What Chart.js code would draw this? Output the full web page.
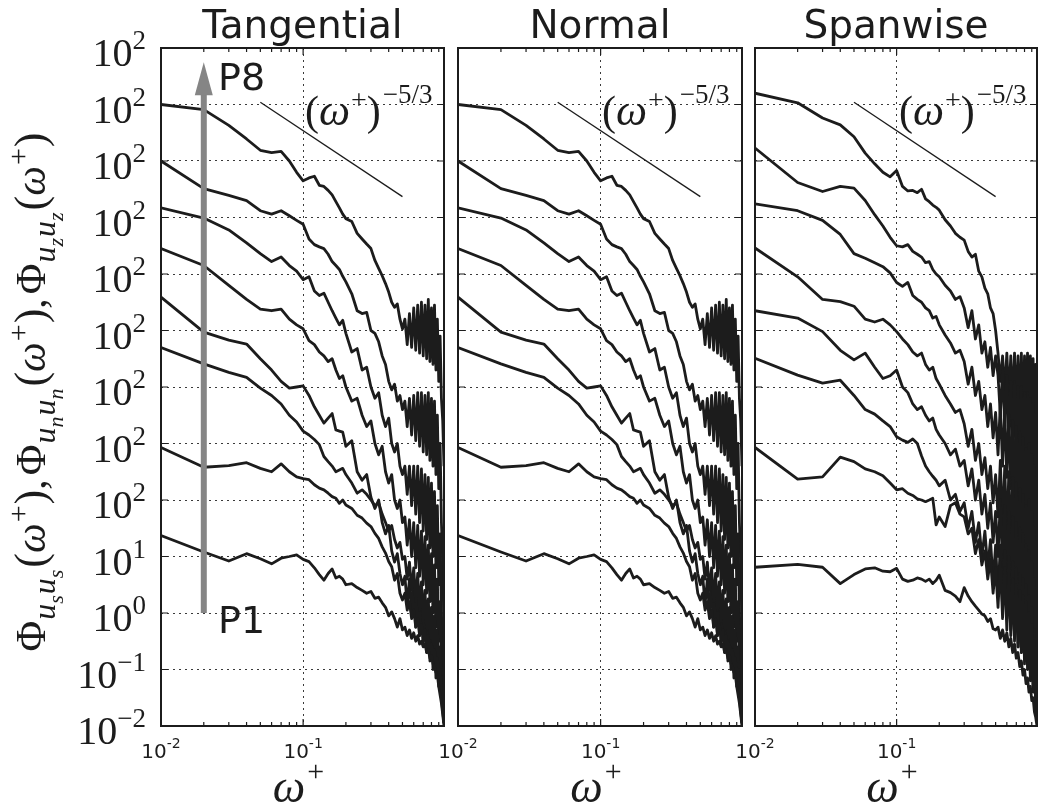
<!DOCTYPE html>
<html>
<head>
<meta charset="utf-8">
<script src="https://cdn.jsdelivr.net/npm/chart.js@4.4.1/dist/chart.umd.min.js"></script>
<style>
  html, body { margin: 0; padding: 0; background: #fff; }
  #wrap { position: relative; width: 1040px; height: 812px; overflow: hidden; }
  #wrap canvas { position: absolute; top: 0; left: 0; }
</style>
</head>
<body>
<div id="wrap">
  <canvas id="c-tan" width="1040" height="812"></canvas>
  <canvas id="c-nor" width="1040" height="812"></canvas>
  <canvas id="c-spa" width="1040" height="812"></canvas>
</div>
<script>
"use strict";

// Frequencies omega+ shared by every curve
const omega = [0.01, 0.02, 0.03, 0.04, 0.05, 0.06, 0.07, 0.08, 0.09, 0.10,
  0.11, 0.12, 0.13, 0.14, 0.15, 0.16, 0.17, 0.18, 0.19, 0.20,
  0.22, 0.24, 0.26, 0.28, 0.30, 0.32, 0.34, 0.36, 0.38, 0.40,
  0.42, 0.44, 0.46, 0.48, 0.50,
  0.52, 0.54, 0.56, 0.58, 0.60, 0.62, 0.64, 0.66, 0.68, 0.70, 0.72,
  0.74, 0.76, 0.78, 0.80, 0.82, 0.84, 0.86, 0.88, 0.90, 0.92, 0.94, 0.96, 0.98];

// Spectra, in decades (log10 of Phi, curves shifted as printed), P1 .. P8
// Tangential (the Normal panel shows the same curves)
const tanP8 = [9.0, 8.91, 8.63, 8.39, 8.19, 8.15, 8.17, 8.0, 7.8, 7.65, 7.7, 7.73, 7.57, 7.55, 7.48, 7.4, 7.28, 7.17, 7.06, 6.98,
  6.93, 6.72, 6.62, 6.53, 6.45, 6.24, 6.1, 5.97, 5.83, 5.68, 5.5, 5.41, 5.47, 5.2, 5.03,
  5.2, 4.75, 5.3, 4.7, 5.4, 4.65, 5.45, 4.6, 5.5, 4.55, 5.45, 4.5, 5.55, 4.45, 5.4, 4.4, 5.45, 4.3, 5.2, 4.1, 4.9, 3.8, 3.4, 2.6];
const tanP7 = [8.0, 7.51, 7.39, 7.3, 7.12, 7.06, 7.12, 7.03, 6.95, 6.88, 6.62, 6.52, 6.48, 6.45, 6.35, 6.22, 6.15, 6.08, 5.96, 5.86,
  5.65, 5.35, 5.3, 5.32, 5.0, 4.95, 4.8, 4.55, 4.4, 4.1, 3.95, 4.05, 3.75, 3.85, 3.6,
  3.75, 3.3, 3.8, 3.15, 3.85, 3.05, 3.9, 2.95, 3.9, 2.85, 3.85, 2.8, 3.9, 2.7, 3.8, 2.6, 3.75, 2.45, 3.5, 2.2, 3.0, 1.6, 0.9, -0.3];
const tanP6 = [7.17, 6.99, 6.78, 6.55, 6.36, 6.22, 6.3, 6.15, 6.05, 5.9, 5.95, 5.7, 5.62, 5.66, 5.5, 5.35, 5.22, 5.1, 5.18, 4.95,
  4.62, 4.68, 4.3, 4.35, 4.0, 3.8, 3.9, 3.5, 3.3, 3.45, 3.0, 2.85, 3.0, 2.6, 2.45,
  2.6, 2.1, 2.6, 1.9, 2.6, 1.75, 2.6, 1.6, 2.55, 1.45, 2.45, 1.3, 2.4, 1.15, 2.3, 1.0, 2.15, 0.8, 1.9, 0.5, 1.4, 0.0, -0.7, -1.5];
const tanP5 = [6.45, 6.15, 5.8, 5.55, 5.38, 5.35, 5.38, 5.2, 5.1, 5.03, 4.82, 4.75, 4.62, 4.55, 4.45, 4.5, 4.3, 4.15, 4.2, 4.0,
  3.75, 3.8, 3.5, 3.3, 3.4, 3.0, 2.8, 2.95, 2.5, 2.3, 2.45, 2.0, 1.85, 2.0, 1.6,
  1.7, 1.2, 1.65, 1.0, 1.6, 0.8, 1.55, 0.65, 1.45, 0.5, 1.35, 0.35, 1.2, 0.2, 1.05, 0.0, 0.85, -0.25, 0.6, -0.5, 0.2, -0.9, -1.3, -1.9];
const tanP4 = [5.59, 4.97, 4.83, 4.76, 4.5, 4.3, 4.1, 3.98, 4.0, 4.02, 3.85, 3.65, 3.5, 3.36, 3.45, 3.53, 3.24, 3.22, 3.2, 2.95,
  3.05, 2.5, 2.35, 2.45, 2.05, 1.85, 2.0, 1.6, 1.4, 1.55, 1.1, 0.9, 1.05, 0.7, 0.5,
  0.65, 0.15, 0.6, -0.05, 0.55, -0.25, 0.45, -0.4, 0.35, -0.55, 0.2, -0.7, 0.05, -0.85, -0.1, -1.0, -0.3, -1.15, -0.5, -1.3, -0.8, -1.5, -1.75, -1.95];
const tanP3 = [4.7, 4.41, 4.26, 4.17, 3.98, 3.85, 3.7, 3.5, 3.38, 3.22, 3.15, 3.07, 2.98, 2.77, 2.68, 2.6, 2.5, 2.53, 2.56, 2.45,
  2.3, 2.12, 2.18, 2.1, 2.0, 1.9, 1.95, 1.75, 1.6, 1.45, 1.55, 1.3, 1.15, 1.25, 0.95,
  1.0, 0.6, 0.9, 0.4, 0.8, 0.2, 0.7, 0.05, 0.55, -0.15, 0.4, -0.3, 0.25, -0.45, 0.1, -0.6, -0.05, -0.8, -0.3, -0.95, -0.6, -1.25, -1.55, -1.9];
const tanP2 = [2.93, 2.58, 2.61, 2.66, 2.56, 2.5, 2.64, 2.5, 2.41, 2.38, 2.36, 2.27, 2.21, 2.18, 2.12, 2.06, 2.03, 1.94, 2.0, 1.91,
  1.85, 1.73, 1.68, 1.59, 1.53, 1.41, 1.32, 1.17, 1.06, 0.91, 0.82, 0.58, 0.7, 0.35, 0.23,
  0.35, 0.05, 0.2, -0.1, 0.05, -0.25, -0.1, -0.4, -0.2, -0.5, -0.3, -0.6, -0.4, -0.75, -0.55, -0.85, -0.65, -1.0, -0.8, -1.15, -1.0, -1.35, -1.6, -1.95];
const tanP1 = [1.37, 1.08, 0.92, 1.05, 0.96, 0.87, 0.97, 1.0, 1.03, 0.95, 0.91, 0.8, 0.68, 0.58, 0.7, 0.78, 0.62, 0.65, 0.6, 0.5,
  0.52, 0.45, 0.4, 0.35, 0.38, 0.26, 0.28, 0.18, 0.1, -0.05, 0.02, -0.1, -0.25, -0.1, -0.3,
  -0.25, -0.4, -0.3, -0.45, -0.35, -0.5, -0.4, -0.55, -0.5, -0.6, -0.55, -0.7, -0.65, -0.8, -0.75, -0.9, -0.95, -1.05, -1.1, -1.3, -1.45, -1.6, -1.8, -2.0];

// Spanwise
const spanP8 = [9.2, 9.03, 8.76, 8.64, 8.43, 8.14, 7.95, 7.8, 7.72, 7.83, 7.55, 7.47, 7.48, 7.44, 7.5, 7.33, 7.28, 7.22, 7.18, 7.13,
  6.96, 6.85, 6.72, 6.65, 6.6, 6.4, 6.3, 6.35, 6.05, 5.95, 5.75, 5.65, 5.4, 5.3, 5.0,
  4.6, 4.1, 4.55, 3.9, 4.6, 3.8, 4.55, 3.7, 4.6, 3.6, 4.55, 3.5, 4.6, 3.4, 4.55, 3.3, 4.6, 3.2, 4.55, 3.1, 4.5, 3.0, 4.4, 2.9];
const spanP7 = [8.23, 7.62, 7.46, 7.55, 7.52, 7.3, 7.05, 6.85, 6.65, 6.5, 6.48, 6.52, 6.4, 6.35, 6.3, 6.2, 6.22, 6.08, 6.0, 5.95,
  5.8, 5.7, 5.55, 5.6, 5.4, 5.05, 5.35, 4.85, 5.1, 4.6, 4.8, 4.35, 4.7, 4.2, 4.55,
  4.2, 3.5, 4.3, 3.3, 4.2, 3.1, 4.1, 2.9, 4.1, 2.8, 4.0, 2.6, 4.0, 2.5, 3.9, 2.4, 3.9, 2.2, 3.8, 2.1, 3.7, 2.0, 3.5, 1.8];
const spanP6 = [7.24, 7.12, 6.95, 6.7, 6.36, 6.28, 6.2, 6.13, 6.02, 5.85, 5.78, 5.85, 5.62, 5.55, 5.5, 5.4, 5.35, 5.22, 5.25, 5.1,
  4.92, 4.78, 4.6, 4.65, 4.45, 4.05, 4.35, 3.85, 4.1, 3.6, 3.85, 3.3, 3.7, 3.1, 3.55,
  2.8, 3.7, 2.6, 3.6, 2.4, 3.5, 2.2, 3.4, 2.0, 3.3, 1.8, 3.2, 1.6, 3.1, 1.5, 2.9, 1.3, 3.0, 1.1, 2.8, 0.9, 2.6, 0.6, 2.3];
const spanP5 = [6.46, 5.95, 5.55, 5.51, 5.43, 5.2, 5.15, 5.2, 5.1, 4.98, 4.85, 4.75, 4.62, 4.55, 4.6, 4.4, 4.3, 4.35, 4.15, 4.05,
  3.85, 3.7, 3.55, 3.6, 3.35, 2.95, 3.25, 2.7, 3.0, 2.45, 2.75, 2.2, 2.6, 1.95, 2.45,
  1.7, 2.7, 1.5, 2.6, 1.3, 2.5, 1.1, 2.4, 0.9, 2.3, 0.7, 2.2, 0.5, 2.1, 0.3, 1.9, 0.1, 2.0, -0.1, 1.8, -0.4, 1.5, -0.8, 1.1];
const spanP4 = [5.35, 5.22, 4.98, 4.65, 4.48, 4.6, 4.35, 4.15, 4.2, 4.3, 4.0, 3.9, 3.7, 3.6, 3.65, 3.5, 3.4, 3.45, 3.25, 3.15,
  3.0, 2.8, 2.9, 2.6, 2.7, 2.25, 2.55, 2.0, 2.35, 1.75, 2.1, 1.5, 1.95, 1.25, 1.8,
  1.0, 2.0, 0.8, 1.9, 0.6, 1.8, 0.4, 1.7, 0.2, 1.6, 0.0, 1.5, -0.2, 1.4, -0.4, 1.2, -0.6, 1.1, -0.8, 0.9, -1.1, 0.6, -1.4, 0.2];
const spanP3 = [4.51, 4.21, 4.07, 4.12, 3.85, 3.6, 3.52, 3.4, 3.3, 3.12, 3.06, 3.02, 3.08, 3.0, 2.78, 2.6, 2.5, 2.42, 2.35, 2.25,
  2.35, 2.0, 2.1, 1.8, 1.95, 1.5, 1.8, 1.25, 1.6, 1.0, 1.45, 0.8, 1.3, 0.55, 1.2,
  0.3, 1.2, 0.1, 1.1, -0.1, 1.0, -0.3, 0.9, -0.4, 0.8, -0.6, 0.7, -0.7, 0.6, -0.9, 0.5, -1.0, 0.3, -1.2, 0.1, -1.4, -0.3, -1.7, -1.9];
const spanP2 = [2.93, 2.37, 2.41, 2.76, 2.68, 2.55, 2.5, 2.43, 2.3, 2.18, 2.2, 2.12, 2.08, 2.02, 2.0, 1.97, 2.0, 2.03, 1.56, 1.7,
  1.53, 1.9, 1.95, 1.75, 1.7, 1.4, 1.5, 1.05, 1.3, 0.85, 1.1, 0.6, 0.95, 0.35, 0.8,
  0.1, 0.9, -0.1, 0.8, -0.3, 0.7, -0.4, 0.6, -0.5, 0.5, -0.6, 0.4, -0.7, 0.3, -0.8, 0.2, -0.9, 0.0, -1.1, -0.2, -1.3, -0.5, -1.6, -1.9];
const spanP1 = [0.81, 0.86, 0.81, 0.52, 0.68, 0.78, 0.8, 0.74, 0.73, 0.79, 0.6, 0.56, 0.58, 0.62, 0.6, 0.56, 0.6, 0.52, 0.58, 0.67,
  0.4, 0.36, 0.3, 0.2, 0.45, 0.3, 0.2, 0.12, 0.05, -0.02, -0.05, -0.15, -0.1, -0.28, -0.3,
  -0.25, -0.45, -0.3, -0.5, -0.35, -0.6, -0.45, -0.7, -0.55, -0.8, -0.7, -0.95, -0.85, -1.1, -1.0, -1.25, -1.15, -1.4, -1.3, -1.55, -1.5, -1.75, -1.85, -2.0];

const tangentialCurves = [tanP1, tanP2, tanP3, tanP4, tanP5, tanP6, tanP7, tanP8];
const normalCurves = tangentialCurves;
const spanwiseCurves = [spanP1, spanP2, spanP3, spanP4, spanP5, spanP6, spanP7, spanP8];

// The -5/3 reference slope (omega, decades)
const slopeOmega = [0.05, 0.5];
const slopeLevel = [9.04, 7.37];

// Grey P1 -> P8 arrow (omega, decades from / to)
const arrowOmega = 0.02;
const arrowFrom = 0;
const arrowTo = 9.75;

// Ticks, and the labels exactly as printed
const yTickValues = [-2, -1, 0, 1, 2, 3, 4, 5, 6, 7, 8, 9, 10];
const yTickExps = ["\u22122", "\u22121", "0", "1", "2", "2", "2", "2", "2", "2", "2", "2", "2"];
const xTickValues = [0.01, 0.1];
const xTickExps = ["-2", "-1"];
const xMinorTicks = [0.02, 0.03, 0.04, 0.05, 0.06, 0.07, 0.08, 0.09, 0.2, 0.3, 0.4, 0.5, 0.6, 0.7, 0.8, 0.9];

const SERIF = "'Liberation Serif', 'DejaVu Serif', serif";
const SANS = "'DejaVu Sans', sans-serif";
const INK = "#1c1c1c";

// draw a run of [text, size, italic, dy, gapAfter] pieces, returns its width
function drawRun(ctx, segs, x, y, measureOnly) {
  let cx = x;
  for (const [t, size, it, dy, gap] of segs) {
    ctx.font = (it ? "italic " : "") + size + "px " + SERIF;
    if (!measureOnly) ctx.fillText(t, cx, y + dy);
    cx += ctx.measureText(t).width + (gap || 0);
  }
  return cx - x;
}

const phiTerm = (s) => [["\u03A6", 42, false, 0, 1], ["u", 32, true, 10, 0], [s, 22, true, 18, 1],
  ["u", 32, true, 10, 0], [s, 22, true, 18, 2], ["(", 44, false, 0, 0], ["\u03C9", 42, true, 0, 1],
  ["+", 30, false, -17, 1], [")", 44, false, 0, 0]];
const yTitle = [...phiTerm("s"), [",", 42, false, 0, 4], ...phiTerm("n"), [",", 42, false, 0, 4], ...phiTerm("z")];

const panelDecor = {
  id: "panelDecor",
  afterDraw(chart, args, o) {
    const { ctx, chartArea: a } = chart;
    const xs = chart.scales.x, ys = chart.scales.y;
    ctx.save();
    ctx.fillStyle = INK;
    ctx.strokeStyle = INK;
    ctx.textAlign = "left";
    ctx.textBaseline = "alphabetic";

    // grey arrow from P1 to P8
    if (o.arrow) {
      const ax = xs.getPixelForValue(arrowOmega);
      const y0 = ys.getPixelForValue(arrowFrom);
      const y1 = ys.getPixelForValue(arrowTo);
      ctx.fillStyle = "#858585";
      ctx.fillRect(ax - 3, y1 + 28, 6, y0 - y1 - 28);
      ctx.beginPath();
      ctx.moveTo(ax, y1);
      ctx.lineTo(ax - 9, y1 + 33);
      ctx.lineTo(ax + 9, y1 + 33);
      ctx.closePath();
      ctx.fill();
      ctx.fillStyle = INK;
      ctx.font = "38px " + SANS;
      ctx.fillText("P8", a.left + 57, 90);
      ctx.fillText("P1", a.left + 57, 633);
    }

    // frame and inward ticks
    ctx.lineWidth = 2;
    ctx.strokeRect(a.left, a.top, a.right - a.left, a.bottom - a.top);
    ctx.lineWidth = 1.2;
    ctx.beginPath();
    for (const v of yTickValues) {
      const py = ys.getPixelForValue(v);
      ctx.moveTo(a.left, py); ctx.lineTo(a.left + 7, py);
      ctx.moveTo(a.right, py); ctx.lineTo(a.right - 7, py);
    }
    for (const v of xTickValues) {
      const px = xs.getPixelForValue(v);
      ctx.moveTo(px, a.bottom); ctx.lineTo(px, a.bottom - 7);
      ctx.moveTo(px, a.top); ctx.lineTo(px, a.top + 7);
    }
    for (const v of xMinorTicks) {
      const px = xs.getPixelForValue(v);
      ctx.moveTo(px, a.bottom); ctx.lineTo(px, a.bottom - 4);
      ctx.moveTo(px, a.top); ctx.lineTo(px, a.top + 4);
    }
    ctx.stroke();

    // panel title
    ctx.font = "39px " + SANS;
    ctx.textAlign = "center";
    ctx.fillText(o.title, (a.left + a.right) / 2, 38);
    ctx.textAlign = "left";

    // x tick labels
    xTickValues.forEach((v, i) => {
      const px = xs.getPixelForValue(v);
      ctx.font = "20px " + SANS;
      const w1 = ctx.measureText("10").width;
      ctx.font = "14px " + SANS;
      const w2 = ctx.measureText(xTickExps[i]).width;
      const sx = px - (w1 + w2) / 2;
      ctx.font = "20px " + SANS;
      ctx.fillText("10", sx, 758);
      ctx.font = "14px " + SANS;
      ctx.fillText(xTickExps[i], sx + w1, 748);
    });

    // x axis title
    const xt = [["\u03C9", 46, true, 0, 2], ["+", 30, false, -21]];
    const xw = drawRun(ctx, xt, 0, 0, true);
    drawRun(ctx, xt, (a.left + a.right) / 2 - xw / 2 - 4, 802);

    // slope label
    drawRun(ctx, [["(", 42, false, 0], ["\u03C9", 44, true, 0, 1], ["+", 28, false, -16],
      [")", 42, false, 0, 2], ["\u2212" + "5/3", 27, false, -22]], a.left + 144, 125);

    // y axis ticks and title
    if (o.yAxis) {
      yTickValues.forEach((v, i) => {
        const py = ys.getPixelForValue(v);
        ctx.textAlign = "right";
        ctx.font = "27px " + SERIF;
        const we = ctx.measureText(yTickExps[i]).width;
        ctx.fillText(yTickExps[i], 146, py + 1);
        ctx.font = "40px " + SERIF;
        ctx.fillText("10", 146 - we, py + 18);
      });
      ctx.textAlign = "left";
      const tw = drawRun(ctx, yTitle, 0, 0, true);
      ctx.translate(45, 392 + tw / 2);
      ctx.rotate(-Math.PI / 2);
      drawRun(ctx, yTitle, 0, 0);
    }
    ctx.restore();
  }
};

function makePanel(id, title, curves, padLeft, yWidth, padRight, yAxis, arrow) {
  const datasets = curves.map((vals) => ({
    data: omega.map((w, i) => ({ x: w, y: vals[i] })),
    borderColor: INK,
    borderWidth: 2.8,
    borderJoinStyle: "round",
    pointRadius: 0,
    tension: 0,
    fill: false
  }));
  datasets.push({
    data: slopeOmega.map((w, i) => ({ x: w, y: slopeLevel[i] })),
    borderColor: INK,
    borderWidth: 1.3,
    pointRadius: 0,
    fill: false
  });

  const canvas = document.getElementById(id);
  return new Chart(canvas, {
    type: "line",
    data: { datasets },
    options: {
      responsive: false,
      animation: false,
      devicePixelRatio: 1,
      layout: { padding: { top: 48, right: padRight, left: padLeft, bottom: 0 } },
      plugins: {
        legend: { display: false },
        tooltip: { enabled: false },
        panelDecor: { title, yAxis, arrow }
      },
      scales: {
        x: {
          type: "logarithmic",
          min: 0.01,
          max: 0.98,
          afterBuildTicks: (s) => { s.ticks = xTickValues.map((v) => ({ value: v })); },
          afterFit: (s) => { s.height = 86; },
          ticks: { display: false },
          grid: { color: "#3a3a3a", lineWidth: 1, drawTicks: false },
          border: { display: false, dash: [2, 4] }
        },
        y: {
          type: "linear",
          min: -2,
          max: 10,
          afterBuildTicks: (s) => { s.ticks = yTickValues.map((v) => ({ value: v })); },
          afterFit: (s) => { s.width = yWidth; },
          ticks: { display: false },
          grid: { color: "#3a3a3a", lineWidth: 1, drawTicks: false },
          border: { display: false, dash: [2, 4] }
        }
      }
    },
    plugins: [panelDecor]
  });
}

// panels: left padding + y axis width sets where each plot frame starts
makePanel("c-tan", "Tangential", tangentialCurves, 0, 161, 596, true, true);
makePanel("c-nor", "Normal", normalCurves, 450, 8, 298, false, false);
makePanel("c-spa", "Spanwise", spanwiseCurves, 747, 8, 3, false, false);
</script>
</body>
</html>
